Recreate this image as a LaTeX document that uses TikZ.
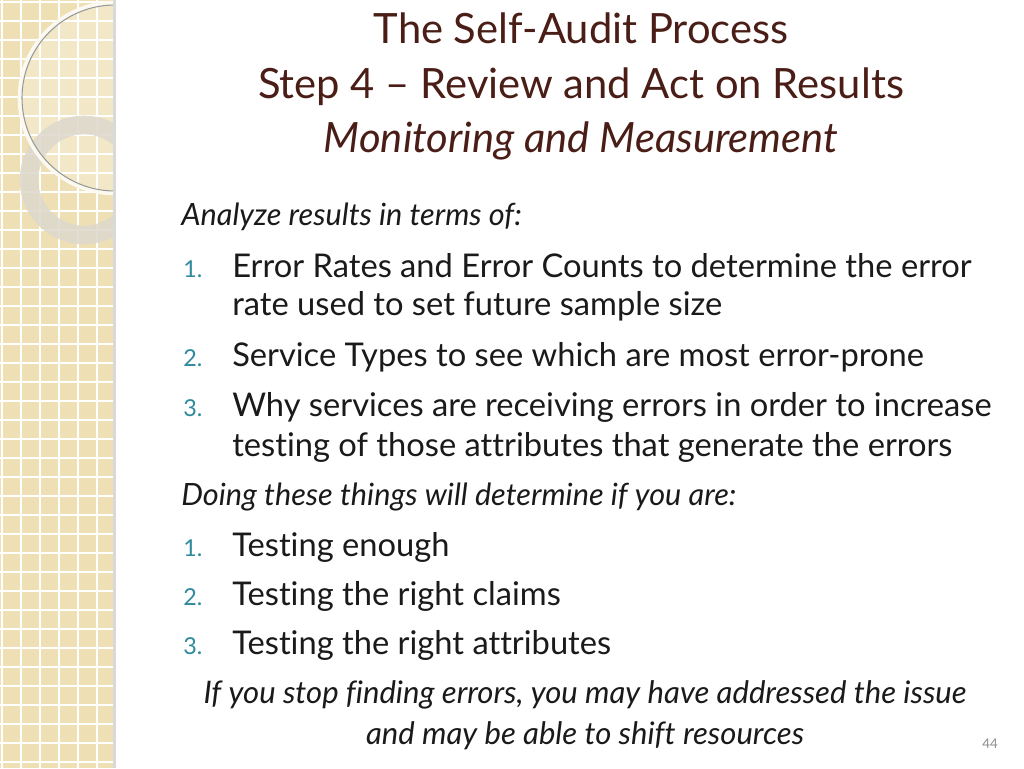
\documentclass[tikz,border=0pt]{standalone}
\usepackage{fontspec}
\setmainfont{Lato}[Ligatures={NoCommon}]
\definecolor{titlec}{HTML}{4A1E16}
\definecolor{numc}{HTML}{2E8A9C}
\definecolor{bodyc}{HTML}{1A1A1A}
\definecolor{band}{HTML}{EEDFB5}
\definecolor{ringc}{HTML}{DCD8CC}
\begin{document}
\begin{tikzpicture}[x=0.75pt,y=-0.75pt,
  tline/.style={anchor=base,text=titlec,font=\fontsize{31.3}{33}\selectfont},
  body/.style={anchor=base west,text=bodyc,font=\fontsize{24.5}{26}\selectfont,inner sep=0},
  ibody/.style={anchor=base west,text=bodyc,font=\itshape\fontsize{23}{25}\selectfont,inner sep=0},
  num/.style={anchor=base west,text=numc,font=\fontsize{17.5}{19}\selectfont,inner sep=0}]
\useasboundingbox (0,0) rectangle (1024,768);
\fill[white] (0,0) rectangle (1024,768);
% band
\fill[band] (0,0) rectangle (113,768);
\begin{scope}
\clip (0,0) rectangle (113,768);
\foreach \i in {0,...,6} \draw[white,line width=1.2] (\i*19+2,0) -- (\i*19+2,768);
\foreach \j in {0,...,41} \draw[white,line width=1.2] (0,\j*19+2) -- (113,\j*19+2);
\fill[white,opacity=0.25] (115,98) circle (95);
\draw[ringc,opacity=0.85,line width=14] (84,180) circle (55);
\draw[white!80!band,line width=3.5] (115,98) circle (95);
\draw[black!40,line width=0.8] (115,98) circle (93);
\end{scope}
\fill[black!15] (113,0) rectangle (116,768);
% title
\node[tline] (t1) at (581,43) {The Self-Audit Process};
\node[tline] (t2) at (581,98) {Step 4 – Review and Act on Results};
\node[tline] (t3) at (581,152) {\itshape Monitoring and Measurement};
% body
\node[ibody] (a) at (181,225) {Analyze results in terms of:};
\node[num] (n1) at (183,277) {1.};
\node[body] (b1) at (232,277) {Error Rates and Error Counts to determine the error};
\node[body] (b1b) at (232,315) {rate used to set future sample size};
\node[num] (n2) at (183,366) {2.};
\node[body] (b2) at (232,366) {Service Types to see which are most error-prone};
\node[num] (n3) at (183,416) {3.};
\node[body] (b3) at (232,416) {Why services are receiving errors in order to increase};
\node[body] (b3b) at (232,456) {testing of those attributes that generate the errors};
\node[ibody] (d) at (181,505) {Doing these things will determine if you are:};
\node[num] (m1) at (183,556) {1.};
\node[body] (c1) at (232,556) {Testing enough};
\node[num] (m2) at (183,605) {2.};
\node[body] (c2) at (232,605) {Testing the right claims};
\node[num] (m3) at (183,654) {3.};
\node[body] (c3) at (232,654) {Testing the right attributes};
\node[anchor=base,text=bodyc,font=\itshape\fontsize{23.3}{25}\selectfont] (f1) at (585,703) {If you stop finding errors, you may have addressed the issue};
\node[anchor=base,text=bodyc,font=\itshape\fontsize{23.3}{25}\selectfont] (f2) at (585,744) {and may be able to shift resources};
\node[anchor=base,text=black!45,font=\fontsize{10}{12}\selectfont] (pg) at (990,748) {44};
\end{tikzpicture}
\end{document}
